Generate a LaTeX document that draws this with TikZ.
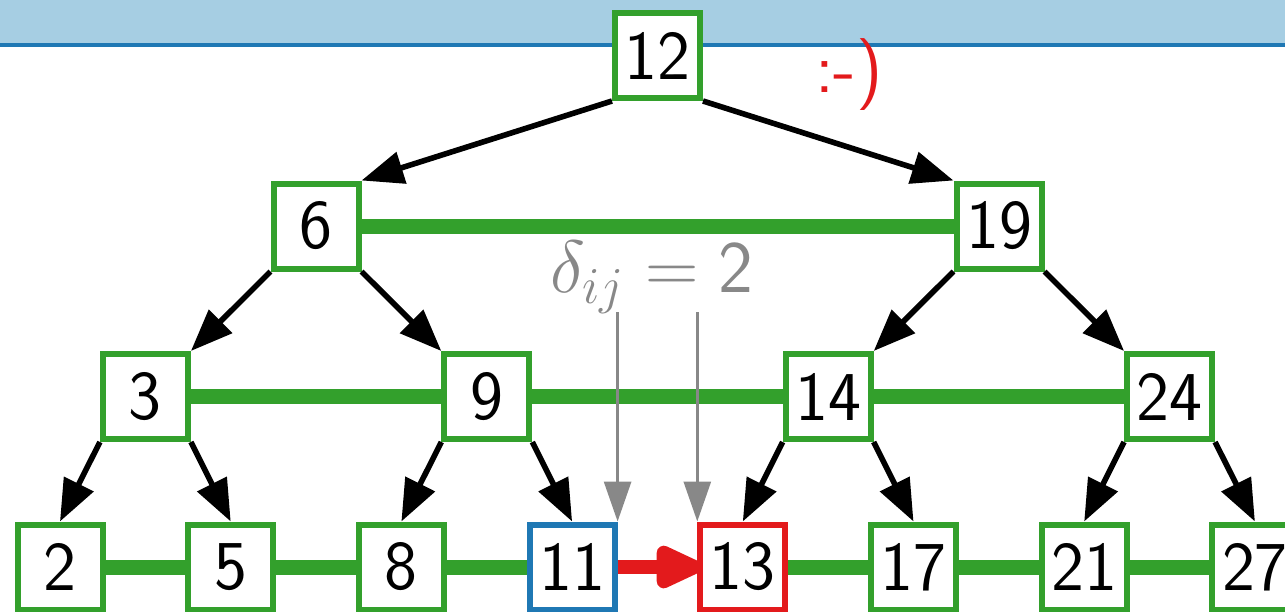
\RequirePackage{fix-cm}
\documentclass[tikz,border=0pt]{standalone}
\usetikzlibrary{arrows.meta}

\definecolor{bandblue}{HTML}{A6CEE3}
\definecolor{darkblue}{HTML}{1F78B4}
\definecolor{treegreen}{HTML}{33A02C}
\definecolor{hotred}{HTML}{E31A1C}
\definecolor{hintgray}{HTML}{888888}

\begin{document}
\begin{tikzpicture}[x=0.5pt,y=-0.5pt,
  keybox/.style={draw=treegreen, fill=white, line width=3pt,
    minimum size=42.5pt, inner sep=0pt,
    font=\fontsize{35}{42}\selectfont\sffamily},
  childedge/.style={draw=black, line width=2.8pt,
    -{Triangle[length=21pt, width=16pt]}},
  levelbar/.style={draw=treegreen, line width=7.5pt},
  jumpedge/.style={draw=hotred, line width=7pt,
    -{Triangle[round, length=28pt, width=23pt]}},
  hintedge/.style={draw=hintgray, line width=1.5pt,
    -{Triangle[length=20pt, width=13.5pt]}},
]
\useasboundingbox (0,0) rectangle (1285,611);
\clip (0,0) rectangle (1285,611);

% title band
\fill[bandblue] (0,0) rectangle (1285,44);
\draw[darkblue, line width=2pt] (0,45) -- (1285,45);

% keys, level by level
\node[keybox] (n12) at (657.5,55.5) {12};

\node[keybox] (n6)  at (316,226) {6};
\node[keybox] (n19) at (999,226) {19};

\node[keybox] (n3)  at (145.4,396.5) {3};
\node[keybox] (n9)  at (486.8,396.5) {9};
\node[keybox] (n14) at (828.2,396.5) {14};
\node[keybox] (n24) at (1169.6,396.5) {24};

\node[keybox] (n2)  at (60,567) {2};
\node[keybox] (n5)  at (230.7,567) {5};
\node[keybox] (n8)  at (401.4,567) {8};
\node[keybox, draw=darkblue] (n11) at (572.1,567) {11};
\node[keybox, draw=hotred]   (n13) at (742.8,567) {13};
\node[keybox] (n17) at (913.5,567) {17};
\node[keybox] (n21) at (1084.2,567) {21};
\node[keybox] (n27) at (1254.9,567) {27};

% links between neighbours on a level
\draw[levelbar] (n6.east) -- (n19.west);
\draw[levelbar] (n3.east) -- (n9.west);
\draw[levelbar] (n9.east) -- (n14.west);
\draw[levelbar] (n14.east) -- (n24.west);
\draw[levelbar] (n2.east) -- (n5.west);
\draw[levelbar] (n5.east) -- (n8.west);
\draw[levelbar] (n8.east) -- (n11.west);
\draw[levelbar] (n13.east) -- (n17.west);
\draw[levelbar] (n17.east) -- (n21.west);
\draw[levelbar] (n21.east) -- (n27.west);

% parent -> child pointers
\draw[childedge] (n12.south west) -- (n6.north east);
\draw[childedge] (n12.south east) -- (n19.north west);
\draw[childedge] (n6.south west) -- (n3.north east);
\draw[childedge] (n6.south east) -- (n9.north west);
\draw[childedge] (n19.south west) -- (n14.north east);
\draw[childedge] (n19.south east) -- (n24.north west);
\draw[childedge] (n3.south west) -- (n2.north);
\draw[childedge] (n3.south east) -- (n5.north);
\draw[childedge] (n9.south west) -- (n8.north);
\draw[childedge] (n9.south east) -- (n11.north);
\draw[childedge] (n14.south west) -- (n13.north);
\draw[childedge] (n14.south east) -- (n17.north);
\draw[childedge] (n24.south west) -- (n21.north);
\draw[childedge] (n24.south east) -- (n27.north);

% step along the bottom level
\draw[jumpedge] (n11.east) -- ([xshift=2pt]n13.west);

% distance marker
\node[text=hintgray, font=\fontsize{37}{44}\selectfont, anchor=base]
  (dist) at (652,292) {$\delta_{ij} = \mathsf{2}$};
\coordinate (g1) at (n11.north east |- 0,312);
\coordinate (g2) at (n13.north west |- 0,312);
\draw[hintedge] (g1) -- (n11.north east);
\draw[hintedge] (g2) -- (n13.north west);

% smiley
\node[text=hotred, font=\fontsize{36}{43}\selectfont\sffamily, anchor=base]
  (smile) at (849,92) {:-)};
\end{tikzpicture}
\end{document}
